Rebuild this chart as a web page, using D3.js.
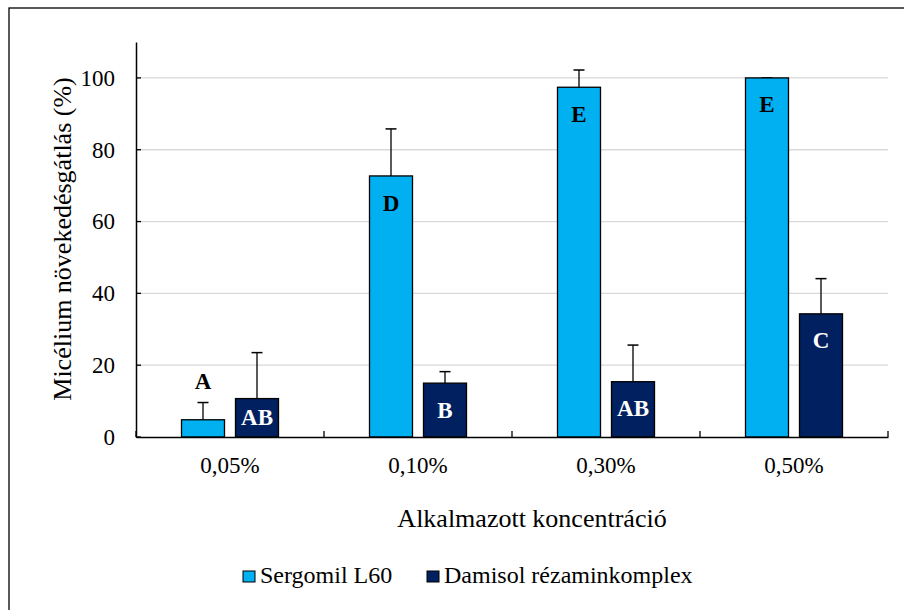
<!DOCTYPE html>
<html><head><meta charset="utf-8">
<script src="https://cdn.jsdelivr.net/npm/d3@7"></script>
<style>body{margin:0;background:#fff}svg{display:block}svg text{font-family:"Liberation Serif","Times New Roman",Times,Tinos,"DejaVu Serif",serif !important}</style>
</head><body>
<svg id="c" width="904" height="610"></svg>
<script>
const categories = ["0,05%", "0,10%", "0,30%", "0,50%"];
const seriesNames = ["Sergomil L60", "Damisol rézaminkomplex"];
const sergomil = [4.8, 72.7, 97.4, 100];
const sergomilErr = [4.8, 13.1, 4.8, 0];
const damisol = [10.7, 15.0, 15.4, 34.3];
const damisolErr = [12.8, 3.2, 10.2, 9.8];
const sergomilLetters = ["A", "D", "E", "E"];
const damisolLetters = ["AB", "B", "AB", "C"];
const yTicks = [0, 20, 40, 60, 80, 100];
const colors = ["#00B0F0", "#002060"];

const svg = d3.select("#c");
svg.append("rect").attr("x", 9).attr("y", 8).attr("width", 920).attr("height", 620)
  .attr("fill", "#fff").attr("stroke", "#000").attr("stroke-width", 1.3);

const L = 136, R = 888, T = 42, B = 437;
const x = d3.scaleBand().domain(categories).range([L, R]);
const y = d3.scaleLinear().domain([0, 110]).range([B, T]);
const bw = 43, off = 27;

svg.append("g").selectAll("line").data(yTicks.filter(d => d > 0)).join("line")
  .attr("x1", L).attr("x2", R).attr("y1", d => y(d)).attr("y2", d => y(d))
  .attr("stroke", "#d9d9d9").attr("stroke-width", 1.3);

const series = [
  {vals: sergomil, err: sergomilErr, letters: sergomilLetters, color: colors[0], dx: -off, tc: "#000"},
  {vals: damisol, err: damisolErr, letters: damisolLetters, color: colors[1], dx: off, tc: "#fff"}
];

series.forEach(s => {
  const g = svg.append("g");
  categories.forEach((c, i) => {
    const cx = x(c) + x.bandwidth() / 2 + s.dx;
    const v = s.vals[i], e = s.err[i];
    if (e > 0) {
      g.append("line").attr("x1", cx).attr("x2", cx).attr("y1", y(v)).attr("y2", y(v + e))
        .attr("stroke", "#000").attr("stroke-width", 1.3);
    }
    g.append("line").attr("x1", cx - 5.5).attr("x2", cx + 5.5).attr("y1", y(v + e)).attr("y2", y(v + e))
      .attr("stroke", "#000").attr("stroke-width", 1.5);
    g.append("rect").attr("x", cx - bw / 2).attr("y", y(v)).attr("width", bw).attr("height", B - y(v))
      .attr("fill", s.color).attr("stroke", "#000").attr("stroke-width", 1.3);
    const h = B - y(v);
    let ty, tc = s.tc;
    if (h < 25) { ty = y(v + e) - 21; tc = "#000"; }
    else ty = Math.min(y(v) + 27, (y(v) + B) / 2);
    g.append("text").attr("x", cx).attr("y", ty).attr("dy", "0.33em").attr("text-anchor", "middle")
      .attr("font-weight", "bold").attr("font-size", 23).attr("fill", tc).text(s.letters[i]);
  });
});

const ya = svg.append("g").attr("transform", `translate(${L},0)`)
  .call(d3.axisLeft(y).tickValues(yTicks).tickSize(0).tickPadding(21));
ya.select(".domain").attr("stroke", "#000").attr("stroke-width", 1.5);
ya.selectAll("text").attr("font-size", 23).attr("fill", "#000");
ya.selectAll("line.tk").data(yTicks).join("line").attr("class", "tk")
  .attr("x1", 0).attr("x2", 5).attr("y1", d => y(d)).attr("y2", d => y(d)).attr("stroke", "#000").attr("stroke-width", 1.3);

const xa = svg.append("g").attr("transform", `translate(0,${B})`)
  .call(d3.axisBottom(x).tickSize(0).tickPadding(20));
xa.select(".domain").attr("stroke", "#000").attr("stroke-width", 1.5);
xa.selectAll("text").attr("font-size", 23).attr("fill", "#000");
const bounds = categories.map(c => x(c)).concat([R]);
xa.selectAll("line.bt").data(bounds).join("line").attr("class", "bt")
  .attr("x1", d => d).attr("x2", d => d).attr("y1", 0).attr("y2", -6).attr("stroke", "#000").attr("stroke-width", 1.3);

svg.append("text").attr("x", 532).attr("y", 527).attr("text-anchor", "middle")
  .attr("font-size", 26).text("Alkalmazott koncentráció");
svg.append("text").attr("transform", "translate(71,239) rotate(-90)").attr("text-anchor", "middle")
  .attr("font-size", 26).text("Micélium növekedésgátlás (%)");

const legX = [243, 427];
seriesNames.forEach((n, i) => {
  svg.append("rect").attr("x", legX[i]).attr("y", 571).attr("width", 12).attr("height", 11)
    .attr("fill", colors[i]).attr("stroke", "#000").attr("stroke-width", 1);
  svg.append("text").attr("x", legX[i] + 17).attr("y", 583).attr("font-size", 24).text(n);
});
</script>
</body></html>
